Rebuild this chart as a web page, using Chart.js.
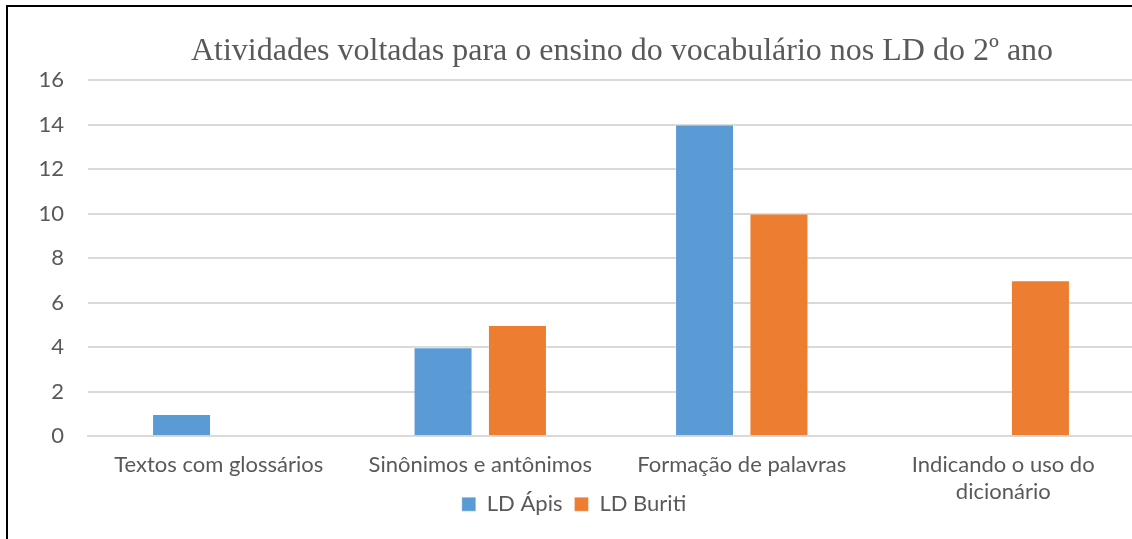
<!DOCTYPE html>
<html>
<head>
<meta charset="utf-8">
<script src="https://cdn.jsdelivr.net/npm/chart.js@4/dist/chart.umd.min.js"></script>
<style>
  html, body { margin: 0; padding: 0; overflow: hidden; background: #fff; width: 1132px; height: 539px; }
  #wrap { position: absolute; left: 0; top: 0; width: 1141px; height: 575px; }
  #frame { position: absolute; left: 6px; top: 5px; width: 1200px; height: 600px;
           border-left: 2px solid #000; border-top: 2px solid #000; pointer-events: none; }
</style>
</head>
<body>
<div id="wrap"><canvas id="c" width="1141" height="575"></canvas></div>
<div id="frame"></div>
<script>
const chartTitle = 'Atividades voltadas para o ensino do vocabulário nos LD do 2º ano';
const categories = [
  'Textos com glossários',
  'Sinônimos e antônimos',
  'Formação de palavras',
  ['Indicando o uso do', 'dicionário']
];
const seriesNames = ['LD Ápis', 'LD Buriti'];
const apisValues = [1, 4, 14, 0];
const buritiValues = [0, 5, 10, 7];
const yTicks = [0, 2, 4, 6, 8, 10, 12, 14, 16];

const textColor = '#595959';
const sansFont = 'Lato, "Open Sans", sans-serif';

const titlePlugin = {
  id: 'customTitle',
  afterDraw(chart) {
    const { ctx, chartArea } = chart;
    ctx.save();
    ctx.font = '32px "Liberation Serif", "Times New Roman", serif';
    ctx.fillStyle = textColor;
    ctx.textAlign = 'center';
    ctx.textBaseline = 'alphabetic';
    ctx.fillText(chartTitle, (chartArea.left + chartArea.right) / 2 + 11, chartArea.top - 20);
    ctx.restore();
  }
};

// Legend sits beside the wrapped second line of the last category label (as in the original)
const legendLift = {
  id: 'legendLift',
  afterLayout(chart) {
    const lg = chart.legend;
    if (!lg) return;
    const h = lg.bottom - lg.top;
    lg.top = chart.scales.x.top + 45;
    lg.bottom = lg.top + h;
  }
};

new Chart(document.getElementById('c'), {
  type: 'bar',
  data: {
    labels: categories,
    datasets: [
      { label: seriesNames[0], data: apisValues, backgroundColor: '#5B9BD5',
        borderColor: 'rgba(255,255,255,0.35)', borderWidth: 1 },
      { label: seriesNames[1], data: buritiValues, backgroundColor: '#ED7D31',
        borderColor: 'rgba(255,255,255,0.35)', borderWidth: 1 }
    ]
  },
  options: {
    responsive: false,
    animation: false,
    devicePixelRatio: 1,
    layout: { padding: { left: 14, right: 7, top: 80, bottom: 10 } },
    datasets: { bar: { categoryPercentage: 0.569, barPercentage: 0.793 } },
    plugins: {
      title: { display: false },
      tooltip: { enabled: false },
      legend: {
        position: 'bottom',
        labels: {
          boxWidth: 14, boxHeight: 14, padding: 12,
          color: textColor,
          font: { family: sansFont, size: 22 }
        }
      }
    },
    scales: {
      x: {
        grid: { display: false, drawTicks: false },
        border: { display: true, color: '#d9d9d9', width: 2 },
        ticks: { color: textColor, font: { family: sansFont, size: 22 }, padding: 16,
                 maxRotation: 0, autoSkip: false }
      },
      y: {
        min: 0, max: 16,
        afterBuildTicks(scale) { scale.ticks = yTicks.map(v => ({ value: v })); },
        grid: { color: '#d9d9d9', lineWidth: 2, drawTicks: false },
        border: { display: false },
        ticks: { color: textColor, font: { family: sansFont, size: 22 }, padding: 24 },
        afterFit(scale) { scale.width = 74; }
      }
    }
  },
  plugins: [titlePlugin, legendLift]
});
</script>
</body>
</html>
